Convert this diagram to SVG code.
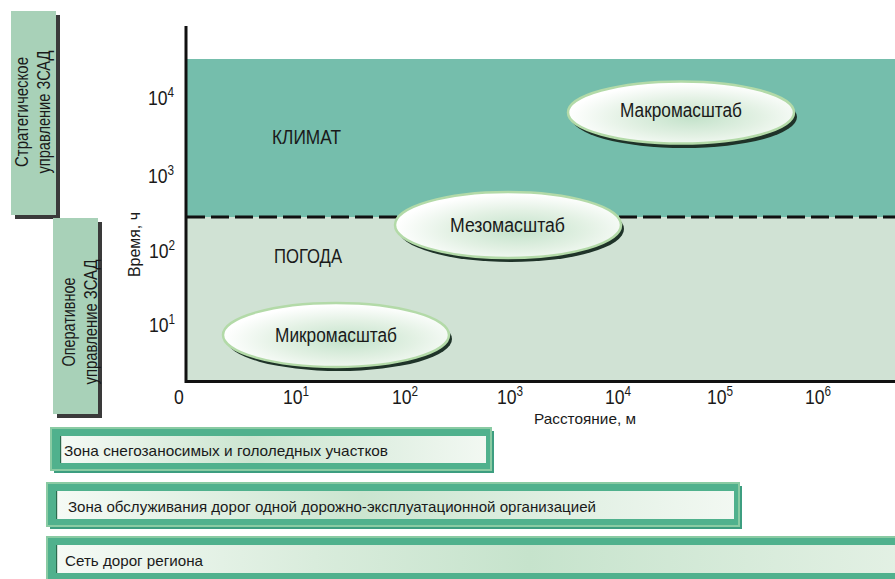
<svg xmlns="http://www.w3.org/2000/svg" width="895" height="579" viewBox="0 0 895 579">
<defs>
  <radialGradient id="eg" cx="55%" cy="58%" r="55%">
    <stop offset="0%" stop-color="#C3E2CA"/>
    <stop offset="55%" stop-color="#E3F1E4"/>
    <stop offset="100%" stop-color="#FFFFFF"/>
  </radialGradient>
  <linearGradient id="bg" x1="0" y1="0" x2="1" y2="0">
    <stop offset="0%" stop-color="#F5FAF5"/>
    <stop offset="45%" stop-color="#CBE5D0"/>
    <stop offset="100%" stop-color="#F2F8F2"/>
  </linearGradient>
  <linearGradient id="bg3" x1="0" y1="0" x2="1" y2="0">
    <stop offset="0%" stop-color="#F5FAF5"/>
    <stop offset="30%" stop-color="#D9ECDC"/>
    <stop offset="55%" stop-color="#C6E3CC"/>
    <stop offset="100%" stop-color="#E4F1E5"/>
  </linearGradient>
</defs>
<style>
  text { font-family: "Liberation Sans", "Noto Sans", Arial, sans-serif; fill: #1A1A1A; }
  .side { fill: #A8D1B8; }
  .sideshadow { fill: #3A3A3A; }
  .sidetxt { font-size: 19px; }
  .big { font-size: 21px; }
  .tick { font-size: 21px; }
  .sup { font-size: 14px; }
  .ell { fill: url(#eg); stroke: #B3DAA8; stroke-width: 2.5; }
  .ellsh { fill: #1F3329; }
  .ellt { font-size: 20px; }
  .barsh { fill: #3D9E80; }
  .barfr { fill: #50B18D; stroke: #8ACBA3; stroke-width: 2; }
  .barin { fill: url(#bg); }
  .barline { stroke: #2C6A4E; stroke-width: 1.2; }
  .bart { font-size: 15px; }
</style>

<g id="side-strategic">
  <rect class="sideshadow" x="15" y="15" width="45" height="204"/>
  <rect class="side" x="11" y="11" width="45" height="204"/>
  <text class="sidetxt" transform="translate(28,112) rotate(-90)" text-anchor="middle" textLength="110" lengthAdjust="spacingAndGlyphs">Стратегическое</text>
  <text class="sidetxt" transform="translate(50,112) rotate(-90)" text-anchor="middle" textLength="123" lengthAdjust="spacingAndGlyphs">управление ЗСАД</text>
</g>

<g id="side-operative">
  <rect class="sideshadow" x="57" y="222" width="45" height="196"/>
  <rect class="side" x="53" y="218" width="45" height="196"/>
  <text class="sidetxt" transform="translate(75,322) rotate(-90)" text-anchor="middle" textLength="89" lengthAdjust="spacingAndGlyphs">Оперативное</text>
  <text class="sidetxt" transform="translate(97,322) rotate(-90)" text-anchor="middle" textLength="125" lengthAdjust="spacingAndGlyphs">управление ЗСАД</text>
</g>

<g id="zone-climate">
  <rect x="186" y="59" width="709" height="159" fill="#75BEAC"/>
  <text class="big" x="272" y="144" textLength="69" lengthAdjust="spacingAndGlyphs">КЛИМАТ</text>
</g>
<g id="zone-weather">
  <rect x="186" y="217" width="709" height="164" fill="#D0E2D4"/>
  <text class="big" x="274" y="263" textLength="68" lengthAdjust="spacingAndGlyphs">ПОГОДА</text>
</g>

<g id="connectors">
  <line x1="187" y1="217" x2="895" y2="217" stroke="#111" stroke-width="3" stroke-dasharray="18 6"/>
  <line x1="186" y1="26" x2="186" y2="383" stroke="#111" stroke-width="3"/>
  <line x1="185" y1="381.5" x2="895" y2="381.5" stroke="#111" stroke-width="3"/>
</g>

<g id="y-axis-labels">
  <text x="140" y="244.5" font-size="16" transform="rotate(-90 140 244.5)" text-anchor="middle" textLength="65" lengthAdjust="spacingAndGlyphs">Время, ч</text>
  <text class="tick" transform="translate(148,105) scale(0.84,1)">10<tspan class="sup" dy="-8">4</tspan></text>
  <text class="tick" transform="translate(148,183) scale(0.84,1)">10<tspan class="sup" dy="-8">3</tspan></text>
  <text class="tick" transform="translate(149,258) scale(0.84,1)">10<tspan class="sup" dy="-8">2</tspan></text>
  <text class="tick" transform="translate(149,332) scale(0.84,1)">10<tspan class="sup" dy="-8">1</tspan></text>
</g>

<g id="x-axis-labels">
  <text class="tick" transform="translate(174,404) scale(0.84,1)">0</text>
  <text class="tick" transform="translate(283,404) scale(0.84,1)">10<tspan class="sup" dy="-8">1</tspan></text>
  <text class="tick" transform="translate(392,404) scale(0.84,1)">10<tspan class="sup" dy="-8">2</tspan></text>
  <text class="tick" transform="translate(497,404) scale(0.84,1)">10<tspan class="sup" dy="-8">3</tspan></text>
  <text class="tick" transform="translate(605,404) scale(0.84,1)">10<tspan class="sup" dy="-8">4</tspan></text>
  <text class="tick" transform="translate(707,404) scale(0.84,1)">10<tspan class="sup" dy="-8">5</tspan></text>
  <text class="tick" transform="translate(805,404) scale(0.84,1)">10<tspan class="sup" dy="-8">6</tspan></text>
  <text x="534" y="424" font-size="15" textLength="102" lengthAdjust="spacingAndGlyphs">Расстояние, м</text>
</g>

<g id="macro">
  <ellipse class="ellsh" cx="684" cy="117" rx="113" ry="31"/>
  <ellipse class="ell" cx="681" cy="112.5" rx="113" ry="31"/>
  <text class="ellt" x="620" y="117" textLength="122" lengthAdjust="spacingAndGlyphs">Макромасштаб</text>
</g>

<g id="meso">
  <ellipse class="ellsh" cx="511" cy="229" rx="113" ry="33"/>
  <ellipse class="ell" cx="508" cy="225" rx="113" ry="33"/>
  <text class="ellt" x="450" y="232" textLength="115" lengthAdjust="spacingAndGlyphs">Мезомасштаб</text>
</g>

<g id="micro">
  <ellipse class="ellsh" cx="339" cy="339" rx="113" ry="32"/>
  <ellipse class="ell" cx="336" cy="335" rx="113" ry="32"/>
  <text class="ellt" x="275" y="342" textLength="122" lengthAdjust="spacingAndGlyphs">Микромасштаб</text>
</g>

<g id="bar-snow">
  <rect class="barsh" x="54" y="431" width="440" height="42"/>
  <rect class="barfr" x="51" y="428" width="440" height="42"/>
  <rect class="barin" x="60" y="436" width="426" height="27"/>
  <line class="barline" x1="60.6" y1="436" x2="60.6" y2="463"/>
  <text class="bart" x="64" y="456" textLength="324" lengthAdjust="spacingAndGlyphs">Зона снегозаносимых и гололедных участков</text>
</g>

<g id="bar-service">
  <rect class="barsh" x="50" y="486" width="692" height="43"/>
  <rect class="barfr" x="47" y="483" width="692" height="43"/>
  <rect class="barin" x="56" y="491" width="678" height="28"/>
  <line class="barline" x1="56.6" y1="491" x2="56.6" y2="519"/>
  <text class="bart" x="68" y="512" textLength="528" lengthAdjust="spacingAndGlyphs">Зона обслуживания дорог одной дорожно-эксплуатационной организацией</text>
</g>

<g id="bar-region">
  <rect class="barsh" x="50" y="540" width="870" height="43"/>
  <rect class="barfr" x="47" y="537" width="870" height="43"/>
  <rect x="56" y="545" width="860" height="28" fill="url(#bg3)"/>
  <line class="barline" x1="56.6" y1="545" x2="56.6" y2="573"/>
  <text class="bart" x="65" y="566" textLength="138" lengthAdjust="spacingAndGlyphs">Сеть дорог региона</text>
</g>
</svg>
